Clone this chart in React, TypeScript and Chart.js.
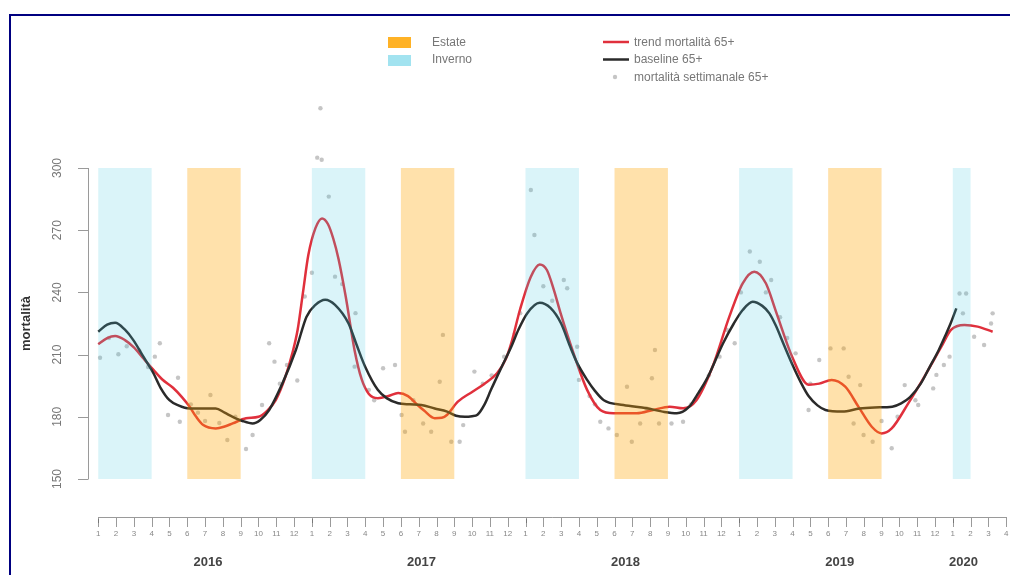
import React, { useEffect, useRef } from "react";
import { Chart, registerables } from "chart.js";
Chart.register(...registerables);

// x values are months since Jan 2016 (0 = January 2016)
const years = ["2016", "2017", "2018", "2019", "2020"];
const monthsPerYear = [12, 12, 12, 12, 4];
const yearLabelPos = [6.16, 18.16, 29.62, 41.65, 48.6];
const yTicks = [150, 180, 210, 240, 270, 300];

const winterStart = [0, 12, 24, 36, 48];
const winterEnd = [3, 15, 27, 39, 49];
const summerStart = [5, 17, 29, 41];
const summerEnd = [8, 20, 32, 44];

const trendX = [0, 0.5, 0.95, 1.5, 2.0, 2.5, 3.1, 3.6, 4.2, 4.7, 5.13, 5.5, 5.9, 6.6, 7.1, 7.55, 8.3, 9.0, 9.5, 9.97, 10.5, 10.9, 11.2, 11.5, 11.8, 12.2, 12.57, 12.9, 13.2, 13.5, 13.9, 14.4, 14.8, 15.2, 15.7, 16.3, 16.85, 17.4, 17.9, 18.3, 18.9, 19.3, 19.6, 20.2, 21.0, 21.7, 22.4, 22.9, 23.2, 23.7, 24.3, 24.8, 25.2, 25.6, 25.97, 26.7, 27.46, 28.2, 28.94, 30.25, 31.17, 32.1, 32.85, 33.6, 34.5, 35.45, 36.2, 36.85, 37.5, 38.06, 39.0, 39.9, 40.5, 41.2, 41.96, 42.7, 43.45, 44.0, 44.57, 45.5, 46.4, 47.36, 47.9, 48.66, 49.4, 50.24];
const trendY = [215, 218, 219, 217, 213.5, 208.5, 202.6, 198, 194, 189.5, 184.9, 180, 176, 174.4, 175.3, 176.8, 179.3, 180, 183, 188, 199, 210.6, 222, 240, 258, 271, 275.7, 273, 266, 256, 238, 212, 198, 191, 189, 190, 191.5, 190, 186, 183, 179.3, 179.5, 181, 187.3, 192, 196, 201, 208, 215.5, 232, 247.6, 253.5, 250.8, 241, 230, 210.6, 193, 183.3, 181.7, 181.7, 183.3, 184.9, 184.1, 188, 204, 228.3, 244.4, 250, 244.4, 231, 208.5, 195.5, 196, 197.8, 194.5, 184.9, 175.2, 172, 174.4, 186.5, 199.3, 213.8, 221.9, 224.3, 223.5, 221];

const baseX = [0, 0.5, 0.95, 1.5, 1.97, 2.5, 3.1, 3.5, 4.0, 4.5, 5.13, 6.0, 6.6, 7.1, 7.55, 8.1, 8.67, 9.1, 9.6, 10.34, 11.1, 11.7, 12.2, 12.75, 13.3, 14.06, 14.5, 15.0, 15.7, 16.2, 16.85, 17.5, 18.15, 18.9, 19.6, 20.1, 20.6, 21.0, 21.3, 21.7, 22.06, 22.6, 23.2, 23.6, 24.1, 24.8, 25.4, 26.0, 26.5, 26.9, 27.46, 27.9, 28.4, 29.5, 30.8, 31.7, 32.5, 33.2, 33.6, 34.2, 35.1, 35.7, 36.2, 36.76, 37.3, 37.7, 38.06, 38.5, 39.0, 39.5, 39.9, 40.4, 40.85, 41.8, 42.76, 43.6, 44.6, 45.1, 45.6, 46.2, 46.7, 47.2, 47.6, 47.9, 48.2];
const baseY = [221, 224.5, 225.4, 222, 217, 209.5, 201, 194, 188, 185.5, 184, 184, 184, 182, 180, 178, 176.8, 178.5, 183.3, 196, 212.2, 228.3, 234, 236.5, 234, 225, 215, 204, 193, 189, 186.5, 186, 185.7, 184, 182.5, 180.5, 180, 180.3, 181, 186, 193, 203, 213.8, 222, 230, 235, 232.5, 225, 214, 206, 197.8, 192.5, 188, 185.7, 184.1, 182.5, 181.7, 184.9, 190, 198.5, 215.5, 225, 231.5, 235.5, 233.5, 229.9, 224, 215, 205, 196, 190, 185.5, 183.3, 182.5, 184, 184.5, 184.9, 186.5, 189.5, 196, 204, 212, 219.5, 225.5, 232.3];

const weekX = [0.1, 0.6, 1.13, 1.6, 2.3, 2.8, 3.18, 3.46, 3.92, 4.48, 4.58, 5.2, 5.6, 6.0, 6.3, 6.8, 7.25, 7.7, 8.3, 8.67, 9.2, 9.6, 9.9, 10.2, 10.6, 11.18, 11.6, 12.0, 12.3, 12.48, 12.55, 12.95, 13.3, 13.7, 14.4, 14.45, 15.2, 15.5, 16.0, 16.67, 17.04, 17.23, 17.7, 18.25, 18.7, 19.18, 19.36, 19.83, 20.3, 20.5, 21.13, 21.6, 22.1, 22.8, 23.4, 23.7, 24.3, 24.5, 25.0, 25.5, 26.15, 26.34, 26.9, 27.0, 27.6, 27.9, 28.2, 28.66, 29.13, 29.7, 29.97, 30.44, 30.8, 31.1, 31.27, 31.5, 32.2, 32.85, 33.3, 33.8, 34.3, 34.9, 35.3, 35.75, 36.1, 36.6, 37.16, 37.5, 37.8, 38.3, 38.7, 39.17, 39.9, 40.0, 40.5, 41.13, 41.87, 42.15, 42.43, 42.8, 42.99, 43.5, 44.0, 44.57, 44.9, 45.3, 45.9, 46.06, 46.9, 47.08, 47.5, 47.82, 48.38, 48.57, 48.75, 49.2, 49.76, 50.15, 50.24];
const weekY = [208.5, 218, 210.2, 214, 212, 204, 209, 215.5, 180.9, 198.8, 177.6, 186, 182, 178, 190.5, 177, 168.8, 180, 164.5, 171.2, 185.7, 215.5, 206.6, 196, 205, 197.5, 238, 249.5, 305, 328.8, 304, 286.2, 247.6, 244, 204.2, 230, 193, 188, 203.4, 205, 180.9, 172.8, 188, 176.8, 172.8, 196.9, 219.5, 168, 168, 176, 201.8, 196, 200, 209, 220, 230, 289.4, 267.7, 243, 236, 246, 242, 213.8, 197.8, 190, 186, 177.6, 174.4, 171.2, 194.5, 168, 176.8, 184, 198.6, 212.2, 176.8, 176.8, 177.6, 186, 192, 200, 209, 222, 215.5, 240, 259.7, 254.8, 240, 246, 228, 218, 210.6, 183.3, 196, 207.4, 213, 213, 199.3, 176.8, 195.3, 171.2, 168, 178, 164.8, 180, 195.3, 188, 185.7, 193.7, 200.2, 205, 209, 239.5, 229.9, 239.5, 218.6, 214.6, 225, 229.9];

const FONT = '"Liberation Sans", Arial, sans-serif';
const RED = "#e0303c";
const BLACK = "#2a2a2a";
const SUMMER_BAND = "rgba(255,165,0,0.33)";
const WINTER_BAND = "rgba(70,200,225,0.2)";
const SUMMER_KEY = "rgba(255,165,0,0.85)";
const WINTER_KEY = "rgba(70,200,225,0.5)";
const POINT = "rgba(150,150,150,0.55)";

const decor = {
  id: "decor",
  afterDatasetsDraw(chart: any) {
    const { ctx, scales } = chart;
    const x = scales.x, y = scales.y;
    const yTop = y.getPixelForValue(300);
    const yBot = y.getPixelForValue(150);
    ctx.save();
    ctx.fillStyle = WINTER_BAND;
    winterStart.forEach((s, i) => {
      const x0 = x.getPixelForValue(s);
      const x1 = x.getPixelForValue(winterEnd[i]);
      ctx.fillRect(x0, yTop, x1 - x0, yBot - yTop);
    });
    ctx.fillStyle = SUMMER_BAND;
    summerStart.forEach((s, i) => {
      const x0 = x.getPixelForValue(s);
      const x1 = x.getPixelForValue(summerEnd[i]);
      ctx.fillRect(x0, yTop, x1 - x0, yBot - yTop);
    });
    ctx.restore();
  },
  afterDraw(chart: any) {
    const { ctx, scales, chartArea } = chart;
    const x = scales.x, y = scales.y;
    ctx.save();
    // y axis
    const yTop = y.getPixelForValue(300);
    const yBot = y.getPixelForValue(150);
    const ax = chartArea.left;
    ctx.strokeStyle = "#9a9a9a";
    ctx.lineWidth = 1;
    ctx.beginPath();
    ctx.moveTo(ax + 0.5, yTop);
    ctx.lineTo(ax + 0.5, yBot);
    yTicks.forEach((t) => {
      const py = Math.round(y.getPixelForValue(t)) + 0.5;
      ctx.moveTo(ax - 10, py);
      ctx.lineTo(ax + 0.5, py);
    });
    ctx.stroke();
    ctx.fillStyle = "#777";
    ctx.font = `12px ${FONT}`;
    ctx.textAlign = "center";
    ctx.textBaseline = "middle";
    yTicks.forEach((t) => {
      const py = y.getPixelForValue(t);
      ctx.save();
      ctx.translate(58, py);
      ctx.rotate(-Math.PI / 2);
      ctx.fillText(String(t), 0, 0);
      ctx.restore();
    });
    ctx.save();
    ctx.translate(26, (yTop + yBot) / 2);
    ctx.rotate(-Math.PI / 2);
    ctx.fillStyle = "#333";
    ctx.font = `bold 13px ${FONT}`;
    ctx.fillText("mortalità", 0, 0);
    ctx.restore();

    // x axis
    const ay = 517;
    let idx = 0;
    const ticks: { m: number; label: string; first: boolean }[] = [];
    monthsPerYear.forEach((n) => {
      for (let k = 1; k <= n; k++) {
        ticks.push({ m: idx, label: String(k), first: k === 1 });
        idx++;
      }
    });
    ctx.strokeStyle = "#9a9a9a";
    ctx.beginPath();
    ctx.moveTo(x.getPixelForValue(0), ay + 0.5);
    ctx.lineTo(x.getPixelForValue(ticks[ticks.length - 1].m), ay + 0.5);
    ticks.forEach((t) => {
      const px = Math.round(x.getPixelForValue(t.m)) + 0.5;
      ctx.moveTo(px, ay);
      ctx.lineTo(px, ay + 10);
    });
    ctx.stroke();
    ctx.strokeStyle = "#777";
    ctx.beginPath();
    ticks.forEach((t) => {
      if (!t.first) return;
      const px = Math.round(x.getPixelForValue(t.m)) + 0.5;
      ctx.moveTo(px, ay + 2);
      ctx.lineTo(px, ay + 6);
    });
    ctx.stroke();
    ctx.fillStyle = "#888";
    ctx.font = `8px ${FONT}`;
    ctx.textAlign = "center";
    ctx.textBaseline = "middle";
    ticks.forEach((t) => {
      ctx.fillText(t.label, x.getPixelForValue(t.m), ay + 17);
    });
    ctx.fillStyle = "#444";
    ctx.font = `bold 13px ${FONT}`;
    years.forEach((yr, i) => {
      ctx.fillText(yr, x.getPixelForValue(yearLabelPos[i]), 562);
    });

    // legend
    ctx.textAlign = "left";
    ctx.font = `12px ${FONT}`;
    ctx.fillStyle = SUMMER_KEY;
    ctx.fillRect(388, 37, 23, 11);
    ctx.fillStyle = WINTER_KEY;
    ctx.fillRect(388, 55, 23, 11);
    ctx.fillStyle = "#777";
    ctx.fillText("Estate", 432, 43);
    ctx.fillText("Inverno", 432, 60);
    ctx.lineWidth = 2.5;
    ctx.strokeStyle = RED;
    ctx.beginPath();
    ctx.moveTo(603, 42);
    ctx.lineTo(629, 42);
    ctx.stroke();
    ctx.strokeStyle = BLACK;
    ctx.beginPath();
    ctx.moveTo(603, 59.5);
    ctx.lineTo(629, 59.5);
    ctx.stroke();
    ctx.fillStyle = POINT;
    ctx.beginPath();
    ctx.arc(615, 77, 2.2, 0, Math.PI * 2);
    ctx.fill();
    ctx.fillStyle = "#777";
    ctx.fillText("trend mortalità 65+", 634, 42.5);
    ctx.fillText("baseline 65+", 634, 60);
    ctx.fillText("mortalità settimanale 65+", 634, 77.5);

    // frame
    ctx.fillStyle = "#000080";
    ctx.fillRect(9, 14, 1010, 2);
    ctx.fillRect(9, 14, 2, 575);
    ctx.restore();
  },
};

export default function App() {
  const ref = useRef<HTMLCanvasElement | null>(null);
  useEffect(() => {
    document.body.style.margin = "0";
    const canvas = ref.current;
    if (!canvas) return;
    const chart = new Chart(canvas, {
      type: "scatter",
      data: {
        datasets: [
          {
            label: "baseline 65+",
            data: baseX.map((v, i) => ({ x: v, y: baseY[i] })),
            showLine: true,
            borderColor: BLACK,
            borderWidth: 2.5,
            pointRadius: 0,
            cubicInterpolationMode: "monotone",
            order: 0,
          },
          {
            label: "trend mortalità 65+",
            data: trendX.map((v, i) => ({ x: v, y: trendY[i] })),
            showLine: true,
            borderColor: RED,
            borderWidth: 2.5,
            pointRadius: 0,
            cubicInterpolationMode: "monotone",
            order: 1,
          },
          {
            label: "mortalità settimanale 65+",
            data: weekX.map((v, i) => ({ x: v, y: weekY[i] })),
            showLine: false,
            backgroundColor: POINT,
            borderWidth: 0,
            pointRadius: 2.2,
            order: 2,
          },
        ],
      },
      options: {
        animation: false,
        responsive: false,
        devicePixelRatio: 1,
        layout: { padding: { left: 88, top: 95, right: 0, bottom: 57 } },
        scales: {
          x: { type: "linear", min: -0.576, max: 50.99, display: false },
          y: { type: "linear", min: 131.19, max: 335.21, display: false },
        },
        plugins: { legend: { display: false }, tooltip: { enabled: false } },
      },
      plugins: [decor],
    } as any);
    return () => chart.destroy();
  }, []);
  return (
    <div style={{ width: 1010, height: 575, background: "#fff" }}>
      <canvas ref={ref} width={1010} height={575} style={{ width: 1010, height: 575, display: "block" }} />
    </div>
  );
}
